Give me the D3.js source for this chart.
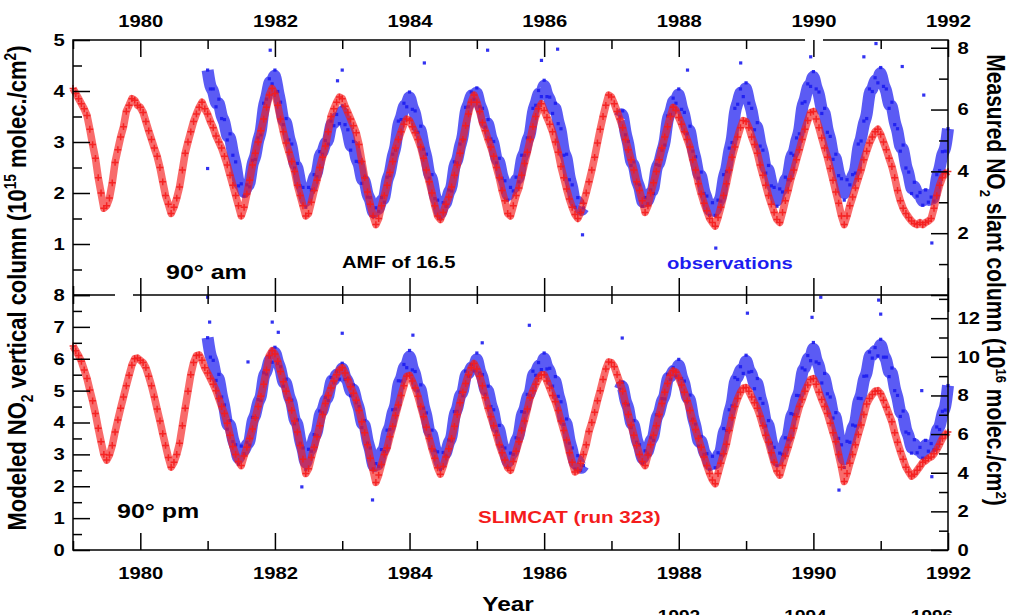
<!DOCTYPE html>
<html>
<head>
<meta charset="utf-8">
<script src="https://cdn.jsdelivr.net/npm/d3@7"></script>
<style>
  body { margin: 0; background: #fff; }
  svg { display: block; }
</style>
</head>
<body>
<svg id="chart" width="1015" height="615"></svg>
<script>
// ---- Data: NO2 columns, sampled every half month (24 samples per year) ----
const stepsPerYear = 24;
const modelStart = 1979;   // SLIMCAT series start
const obsStart = 1981;     // observations start

// 90° am, modelled vertical column (1e15 molec/cm2)
const amModel = [
  4.05,3.95,3.85,3.75,3.65,3.52,3.25,2.95,2.68,2.3,2.0,1.7,1.75,1.9,2.2,2.6,2.85,3.1,3.3,3.6,3.72,3.85,3.82,3.72,
  3.68,3.58,3.4,3.22,3.05,2.88,2.72,2.5,2.22,1.95,1.78,1.6,1.72,1.9,2.12,2.45,2.78,3.0,3.2,3.4,3.55,3.68,3.78,3.65,
  3.55,3.4,3.28,3.12,3.0,2.88,2.72,2.55,2.35,2.15,1.95,1.75,1.55,1.72,1.98,2.25,2.55,2.78,3.0,3.22,3.45,3.68,3.92,4.05,
  3.95,3.72,3.45,3.2,2.98,2.8,2.62,2.42,2.15,1.95,1.75,1.55,1.6,1.82,2.05,2.25,2.5,2.7,2.92,3.2,3.5,3.65,3.78,3.88,
  3.85,3.7,3.58,3.45,3.32,3.18,2.95,2.62,2.3,2.02,1.78,1.55,1.38,1.5,1.75,1.95,2.15,2.4,2.62,2.88,3.05,3.2,3.35,3.45,
  3.42,3.3,3.18,3.05,2.9,2.68,2.45,2.22,2.0,1.75,1.55,1.48,1.62,1.78,1.92,2.12,2.35,2.55,2.78,3.05,3.32,3.55,3.78,3.92,
  3.78,3.6,3.38,3.22,3.05,2.9,2.72,2.5,2.3,2.05,1.85,1.6,1.55,1.75,1.95,2.1,2.35,2.58,2.8,3.05,3.3,3.5,3.65,3.75,
  3.62,3.48,3.35,3.2,3.0,2.8,2.52,2.3,2.08,1.88,1.72,1.58,1.5,1.62,1.8,2.0,2.22,2.45,2.7,2.98,3.25,3.5,3.72,3.92,
  3.88,3.75,3.6,3.45,3.28,3.05,2.85,2.65,2.45,2.22,2.05,1.85,1.62,1.75,2.0,2.2,2.42,2.65,2.88,3.1,3.3,3.5,3.68,3.62,
  3.48,3.35,3.2,3.05,2.9,2.65,2.45,2.18,1.98,1.8,1.65,1.5,1.42,1.35,1.52,1.72,1.95,2.18,2.45,2.7,2.9,3.1,3.28,3.42,
  3.4,3.28,3.1,2.95,2.78,2.55,2.35,2.15,1.95,1.78,1.62,1.48,1.42,1.62,1.85,2.05,2.28,2.45,2.65,2.85,3.05,3.25,3.42,3.58,
  3.6,3.45,3.28,3.08,2.88,2.7,2.48,2.25,2.02,1.8,1.55,1.38,1.55,1.75,1.92,2.1,2.28,2.45,2.65,2.82,2.98,3.1,3.2,3.25,
  3.15,3.0,2.85,2.68,2.52,2.3,2.05,1.85,1.7,1.6,1.52,1.45,1.4,1.38,1.42,1.38,1.42,1.45,1.5,1.7,1.95,2.15,2.3,2.38,
  2.42
];

// 90° am, observed column on the vertical-column scale
const amObs = [
  4.41,4.04,4.04,3.69,3.84,3.46,3.44,3.04,3.16,2.74,2.61,2.14,2.18,1.94,2.16,2.12,2.64,2.66,3.08,3.14,3.76,3.84,4.24,4.14,
  4.41,3.99,3.78,3.34,3.46,3.04,2.96,2.49,2.58,2.14,2.11,1.72,2.11,2.06,2.36,2.32,2.81,2.76,3.03,2.96,3.41,3.32,3.54,3.36,
  3.71,3.34,3.24,2.84,3.01,2.62,2.61,2.19,2.31,1.92,1.91,1.54,1.71,1.64,1.91,1.82,2.31,2.34,2.76,2.84,3.41,3.44,3.76,3.69,
  3.98,3.64,3.61,3.19,3.31,2.86,2.76,2.29,2.36,1.89,1.86,1.49,1.81,1.74,2.06,2.04,2.61,2.59,2.96,3.04,3.68,3.69,3.98,3.84,
  4.06,3.69,3.66,3.29,3.44,3.06,3.01,2.59,2.68,2.29,2.24,1.86,2.11,2.04,2.31,2.22,2.74,2.74,3.08,3.09,3.66,3.72,4.01,3.89,
  4.21,3.89,3.88,3.56,3.76,3.36,3.26,2.74,2.76,2.26,2.16,1.72,1.91,1.62,1.71,null,null,null,null,null,null,null,null,null,
  null,null,null,3.49,3.61,3.14,3.01,2.54,2.61,2.19,2.16,1.74,1.91,1.79,2.06,1.99,2.56,2.54,2.84,2.94,3.51,3.54,3.86,3.76,
  4.04,3.64,3.58,3.16,3.31,2.82,2.71,2.29,2.41,1.99,1.94,1.56,1.81,1.56,1.86,1.84,2.36,2.42,2.88,2.99,3.66,3.74,4.04,3.89,
  4.16,3.76,3.66,3.24,3.38,2.92,2.84,2.39,2.54,2.14,2.11,1.74,2.08,2.02,2.31,2.26,2.78,2.74,3.08,3.16,3.76,3.79,4.14,4.09,
  4.38,4.04,3.98,3.56,3.66,3.19,3.11,2.66,2.76,2.34,2.28,1.86,2.26,2.16,2.36,2.39,2.96,3.02,3.41,3.46,4.04,3.99,4.26,4.16,
  4.46,4.09,4.04,3.66,3.78,3.34,3.26,2.82,2.94,2.49,2.41,1.99,2.21,1.94,2.01,1.76,2.06,1.82,1.92,1.84,2.36,2.44,2.81,2.82,
  3.26
];

// isolated am observations away from the main band [year, value]
const amObsOutliers = [
  [1981.0,2.48],[1981.93,4.8],[1982.93,4.2],[1983.0,4.41],[1984.22,4.55],[1985.16,4.8],
  [1985.96,4.6],[1986.2,4.82],[1986.57,1.18],[1988.13,4.41],[1988.55,0.92],[1988.92,4.55],
  [1989.96,4.67],[1990.75,4.67],[1990.93,4.93],[1991.32,4.48],[1991.64,3.92],[1991.76,1.02]
];

// 90° pm, modelled vertical column
const pmModel = [
  6.4,6.25,6.1,5.92,5.65,5.38,5.02,4.68,4.28,3.82,3.4,3.0,2.82,2.98,3.28,3.7,4.08,4.45,4.8,5.15,5.48,5.8,6.0,6.02,
  5.95,5.88,5.72,5.45,5.15,4.8,4.42,4.05,3.65,3.28,2.9,2.6,2.75,3.0,3.35,3.9,4.45,4.98,5.5,5.88,6.1,6.12,5.95,5.72,
  5.55,5.38,5.2,5.0,4.75,4.5,4.28,3.98,3.6,3.25,3.0,2.78,2.65,2.95,3.22,3.5,3.8,4.15,4.5,4.82,5.2,5.65,6.1,6.25,
  6.15,5.92,5.6,5.28,4.98,4.7,4.38,4.05,3.7,3.28,2.85,2.4,2.55,2.9,3.22,3.55,3.9,4.25,4.6,4.85,5.08,5.3,5.5,5.65,
  5.72,5.55,5.35,5.12,4.92,4.7,4.38,4.02,3.68,3.3,2.88,2.5,2.12,2.35,2.68,3.0,3.2,3.55,3.88,4.22,4.55,4.85,5.15,5.45,
  5.48,5.3,5.08,4.82,4.5,4.18,3.85,3.5,3.18,2.88,2.58,2.38,2.62,2.92,3.18,3.5,3.88,4.25,4.62,4.95,5.22,5.5,5.72,5.85,
  5.68,5.45,5.15,4.78,4.45,4.18,3.9,3.6,3.3,3.05,2.82,2.58,2.5,2.78,3.1,3.4,3.75,4.05,4.42,4.78,5.0,5.2,5.38,5.5,
  5.5,5.3,5.08,4.85,4.65,4.38,4.05,3.75,3.45,3.05,2.75,2.45,2.5,2.72,3.0,3.3,3.72,4.0,4.32,4.68,5.0,5.35,5.68,5.9,
  5.88,5.75,5.5,5.25,4.98,4.6,4.25,3.92,3.6,3.28,3.0,2.78,2.65,2.98,3.3,3.6,3.9,4.25,4.6,4.95,5.22,5.48,5.62,5.58,
  5.4,5.18,4.95,4.68,4.38,4.05,3.78,3.5,3.22,2.92,2.65,2.4,2.2,2.08,2.4,2.72,3.02,3.32,3.75,4.15,4.5,4.75,4.95,5.08,
  5.1,4.98,4.8,4.62,4.45,4.2,3.9,3.6,3.38,3.05,2.75,2.48,2.35,2.65,2.95,3.22,3.52,3.82,4.18,4.5,4.72,4.98,5.18,5.35,
  5.38,5.2,4.95,4.72,4.5,4.28,3.98,3.68,3.4,3.0,2.6,2.15,2.4,2.72,3.0,3.3,3.62,3.92,4.25,4.58,4.75,4.88,4.98,5.0,
  4.9,4.7,4.48,4.25,4.02,3.68,3.38,3.1,2.85,2.6,2.45,2.32,2.38,2.5,2.62,2.75,2.8,2.88,2.92,3.02,3.15,3.32,3.5,3.62,
  3.7
];

// 90° pm, observed column
const pmObs = [
  6.66,6.05,5.95,5.32,5.51,4.8,4.55,3.79,4.06,3.4,3.3,2.69,3.26,3.02,3.38,3.29,4.16,4.15,4.72,4.69,5.56,5.52,6.05,5.89,
  6.36,5.85,5.75,5.14,5.36,4.75,4.7,3.96,4.08,3.35,3.2,2.52,3.16,3.1,3.62,3.59,4.36,4.3,4.78,4.69,5.41,5.25,5.6,5.36,
  5.86,5.35,5.38,4.84,5.18,4.62,4.5,3.84,4.06,3.35,3.2,2.54,2.71,2.62,3.15,3.09,3.76,3.78,4.4,4.42,5.31,5.3,5.82,5.72,
  6.26,5.65,5.6,4.99,5.18,4.45,4.3,3.59,3.76,3.12,3.08,2.52,3.06,2.95,3.45,3.42,4.34,4.35,4.95,4.84,5.61,5.45,5.82,5.62,
  6.18,5.55,5.5,4.89,5.14,4.5,4.4,3.72,3.91,3.25,3.2,2.59,3.04,3.0,3.52,3.49,4.34,4.32,4.88,4.84,5.61,5.48,5.88,5.66,
  6.18,5.68,5.7,5.14,5.44,4.82,4.65,3.94,4.11,3.35,3.2,2.54,2.96,2.5,2.65,null,null,null,null,null,null,null,null,null,
  null,null,null,5.04,5.26,4.6,4.55,3.84,4.06,3.38,3.3,2.72,3.11,3.0,3.52,3.44,4.24,4.22,4.75,4.74,5.51,5.35,5.72,5.46,
  5.98,5.38,5.3,4.66,4.86,4.1,3.95,3.26,3.56,3.0,3.02,2.52,2.94,2.58,3.05,2.99,3.81,3.75,4.4,4.52,5.41,5.35,5.75,5.54,
  6.11,5.58,5.6,5.06,5.38,4.75,4.6,3.89,4.06,3.35,3.22,2.64,3.04,3.0,3.52,3.46,4.28,4.25,4.85,4.84,5.71,5.65,6.1,5.94,
  6.51,5.9,5.85,5.24,5.54,4.9,4.8,4.14,4.31,3.5,3.3,2.59,3.41,3.38,3.92,3.89,4.76,4.75,5.45,5.46,6.21,6.02,6.35,6.09,
  6.61,6.05,6.05,5.44,5.71,5.0,4.85,4.19,4.36,3.7,3.65,3.04,3.46,3.05,3.22,2.88,3.44,3.1,3.34,3.14,3.86,3.78,4.35,4.39,
  5.16
];

const pmObsOutliers = [
  [1981.0,7.93],[1981.03,7.15],[1981.6,5.9],[1981.96,7.15],[1982.05,6.83],[1982.4,1.98],
  [1983.0,6.8],[1983.45,1.57],[1984.05,6.74],[1985.08,6.5],[1985.78,7.05],[1987.16,6.65],
  [1989.02,7.43],[1989.98,7.3],[1990.11,7.93],[1990.38,1.88],[1990.97,7.84],[1991.0,7.4],
  [1991.61,5.0],[1991.76,2.3]
];

// ---- Axis definitions ----
const yearDomain = [1979, 1992];
const yearMajor = [1980, 1982, 1984, 1986, 1988, 1990, 1992];
const yearMinor = [1979, 1981, 1983, 1985, 1987, 1989, 1991];
const amAmf = 16.5;                       // slant = vertical * AMF
const amLeftMax = 5, pmLeftMax = 8;
const amLeftMajor = [0, 1, 2, 3, 4, 5];
const amLeftMinor = [0.5, 1.5, 2.5, 3.5, 4.5];
const amLeftLabels = [1, 2, 3, 4, 5];
const amRightMajor = [0, 2, 4, 6, 8];
const amRightMinor = [1, 3, 5, 7];
const amRightLabels = [2, 4, 6, 8];
const pmLeftMajor = [0, 1, 2, 3, 4, 5, 6, 7, 8];
const pmLeftMinor = [0.5, 1.5, 2.5, 3.5, 4.5, 5.5, 6.5, 7.5];
const pmLeftLabels = [0, 1, 2, 3, 4, 5, 6, 7, 8];
const pmRightMajor = [0, 2, 4, 6, 8, 10, 12];
const pmRightMinor = [1, 3, 5, 7, 9, 11, 13];
const pmRightLabels = [0, 2, 4, 6, 8, 10, 12];
const nextPanelYears = [1992, 1994, 1996];

// ---- Layout ----
const L = 73, R = 948, T = 40, MID = 295, B = 550;
const SX = 1.19;                     // horizontal stretch of lettering
const FONT = "'Liberation Sans', Arial, Helvetica, sans-serif";
const RED = "#f41c1c", BLUE = "#1c1cf0";

const svg = d3.select("#chart");
svg.append("rect").attr("width", 1015).attr("height", 615).attr("fill", "#fff");

const x = d3.scaleLinear().domain(yearDomain).range([L, R]);
const yAm = d3.scaleLinear().domain([0, amLeftMax]).range([MID, T]);
const yAmR = d3.scaleLinear().domain([0, amLeftMax * amAmf / 10]).range([MID, T]);
const yPm = d3.scaleLinear().domain([0, pmLeftMax]).range([B, MID]);
const yPmR = d3.scaleLinear().domain([0, pmLeftMax * amAmf / 10]).range([B, MID]);

function toPoints(values, start) {
  return values.map((v, i) => ({ t: start + i / stepsPerYear, v }));
}

const crossPath = "M-3.4,0H3.4M0,-3.4V3.4";

function drawSeries(y, model, obs, outliers) {
  const g = svg.append("g");
  const obsPts = toPoints(obs, obsStart);

  // observation cloud: a band through the samples plus the samples themselves
  g.append("path").datum(obsPts)
    .attr("d", d3.line().defined(d => d.v !== null).curve(d3.curveBasis)
      .x(d => x(d.t)).y(d => y(d.v)))
    .attr("fill", "none").attr("stroke", BLUE).attr("stroke-width", 12)
    .attr("stroke-linejoin", "round").attr("opacity", 0.72);
  const dots = obsPts.filter(d => d.v !== null).concat(outliers.map(([t, v]) => ({ t, v })));
  g.append("g").selectAll("rect").data(dots).join("rect")
    .attr("x", d => x(d.t) - 1.6).attr("y", d => y(d.v) - 1.6)
    .attr("width", 3.2).attr("height", 3.2)
    .attr("fill", BLUE).attr("opacity", 0.9);

  // model: dense band with the individual markers on top
  const modelPts = toPoints(model, modelStart);
  g.append("path").datum(modelPts)
    .attr("d", d3.line().x(d => x(d.t)).y(d => y(d.v)))
    .attr("fill", "none").attr("stroke", RED).attr("stroke-width", 7.5)
    .attr("stroke-linejoin", "round").attr("opacity", 0.65);
  g.append("g").selectAll("path").data(modelPts).join("path")
    .attr("d", crossPath)
    .attr("transform", d => `translate(${x(d.t)},${y(d.v)})`)
    .attr("fill", "none").attr("stroke", RED).attr("stroke-width", 1.5)
    .attr("opacity", 0.9);
}

drawSeries(yAm, amModel, amObs, amObsOutliers);
drawSeries(yPm, pmModel, pmObs, pmObsOutliers);

// ---- Frame ----
const frame = svg.append("g").attr("stroke", "#000").attr("stroke-width", 1.5).attr("fill", "none");
frame.append("rect").attr("x", x(1979)).attr("y", yAm(amLeftMax))
  .attr("width", x(1992) - x(1979)).attr("height", yPm(0) - yAm(amLeftMax));
frame.append("line").attr("x1", x(1979)).attr("x2", x(1992)).attr("y1", yAm(0)).attr("y2", yAm(0));
// small breaks in the frame lines
svg.append("rect").attr("x", 115).attr("y", MID - 2).attr("width", 18).attr("height", 4).attr("fill", "#fff");
svg.append("rect").attr("x", 805).attr("y", T - 2).attr("width", 18).attr("height", 4).attr("fill", "#fff");

// ---- Axes ----
function styleAxis(g, labelled) {
  g.select(".domain").remove();
  g.selectAll(".tick line").attr("stroke", "#000").attr("stroke-width", 1.5);
  g.attr("font-family", FONT).attr("font-size", 17).attr("font-weight", "bold");
  g.selectAll(".tick text").attr("fill", "#000").attr("transform", `scale(${SX},1)`);
  if (!labelled) g.selectAll(".tick text").remove();
}

function addAxis(axisFn, scale, pos, vertical, major, minor, labels, pad) {
  const tr = vertical ? `translate(${pos},0)` : `translate(0,${pos})`;
  svg.append("g").attr("transform", tr)
    .call(axisFn(scale).tickValues(minor).tickSizeInner(-9).tickSizeOuter(0).tickFormat(""))
    .call(g => styleAxis(g, false));
  svg.append("g").attr("transform", tr)
    .call(axisFn(scale).tickValues(major).tickSizeInner(-17).tickSizeOuter(0).tickPadding(pad)
      .tickFormat(d => (labels && labels.includes(d)) ? d : ""))
    .call(g => styleAxis(g, !!labels));
}

// year axes on all four horizontal edges, ticks pointing inward
addAxis(d3.axisTop, x, T, false, yearMajor, yearMinor, yearMajor, 13);
addAxis(d3.axisBottom, x, MID, false, yearMajor, yearMinor, null, 0);
addAxis(d3.axisTop, x, MID, false, yearMajor, yearMinor, null, 0);
addAxis(d3.axisBottom, x, B, false, yearMajor, yearMinor, yearMajor, 17);

// value axes
addAxis(d3.axisLeft, yAm, L, true, amLeftMajor, amLeftMinor, amLeftLabels, 7);
addAxis(d3.axisRight, yAmR, R, true, amRightMajor, amRightMinor, amRightLabels, 8);
addAxis(d3.axisLeft, yPm, L, true, pmLeftMajor, pmLeftMinor, pmLeftLabels, 7);
addAxis(d3.axisRight, yPmR, R, true, pmRightMajor, pmRightMinor, pmRightLabels, 8);

// ---- Text ----
function label(txt, px, py, size, color, anchor) {
  return svg.append("text")
    .attr("transform", `translate(${px},${py}) scale(${SX},1)`)
    .attr("text-anchor", anchor || "start")
    .attr("font-family", FONT).attr("font-weight", "bold")
    .attr("font-size", size).attr("fill", color || "#000")
    .text(txt);
}

label("90\u00b0 am", 166, 279, 21);
label("AMF of 16.5", 342, 267.5, 17);
label("observations", 667, 269, 17, BLUE);
label("90\u00b0 pm", 117, 518, 21);
label("SLIMCAT (run 323)", 478, 523, 17.3, RED);
label("Year", 508, 611, 20.5, "#000", "middle");

// year labels of the following panel, mostly below the page edge
const xNext = d3.scaleLinear().domain([1992, 1996]).range([679, 932]);
nextPanelYears.forEach(yr => label(String(yr), xNext(yr), 621.5, 16, "#000", "middle"));

// axis titles with sub/superscripts
function axisTitle(parts, px, py, rot, size) {
  const t = svg.append("text")
    .attr("transform", `translate(${px},${py}) scale(${SX},1) rotate(${rot})`)
    .attr("text-anchor", "middle")
    .attr("font-family", FONT).attr("font-weight", "bold")
    .attr("font-size", size).attr("fill", "#000");
  let shift = 0;
  parts.forEach(([s, kind]) => {
    const target = kind === "sub" ? size * 0.28 : kind === "sup" ? -size * 0.38 : 0;
    t.append("tspan")
      .attr("dy", target - shift)
      .attr("font-size", kind ? size * 0.62 : size)
      .text(s);
    shift = target;
  });
  return t;
}

axisTitle([["Modeled NO"], ["2", "sub"], [" vertical column (10"], ["15", "sup"],
           [" molec./cm"], ["2", "sup"], [")"]], 26, 288, -90, 22);
axisTitle([["Measured NO"], ["2", "sub"], [" slant column (10"], ["16", "sup"],
           [" molec./cm"], ["2", "sup"], [")"]], 987, 280, 90, 21);
</script>
</body>
</html>
